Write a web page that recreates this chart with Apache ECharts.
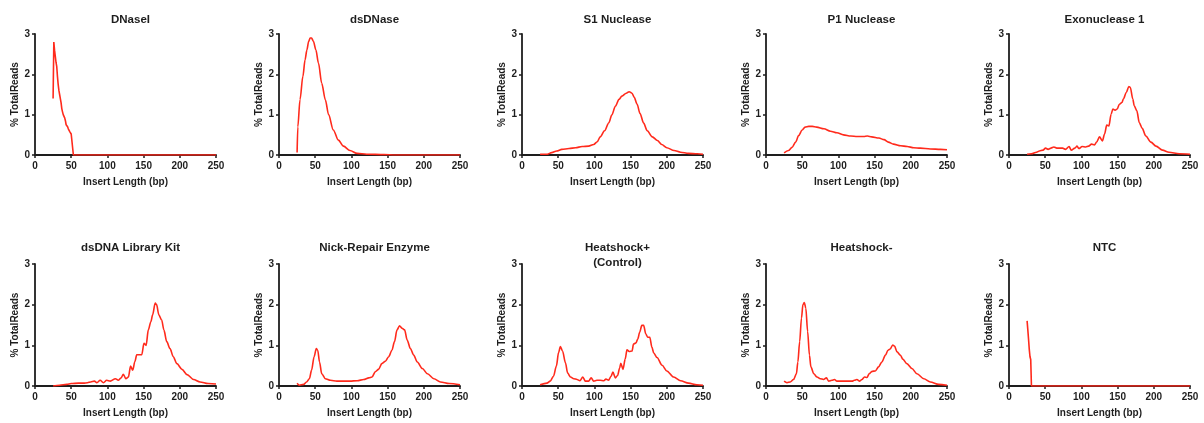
<!DOCTYPE html>
<html>
	<head>
		<meta charset="utf-8">
		<title>Insert Length</title>
		<style>
			html, body { margin: 0; padding: 0; background: #fff; }
			#main { width: 1204px; height: 423px; }
		</style>
	</head>
	<body>
		<div id="main"></div>
		<script type="text/javascript" src="https://cdn.jsdelivr.net/npm/echarts@6/dist/echarts.min.js"></script>
		<script type="text/javascript">
			// panel titles, in the order they are drawn (row by row)
			var titles = ['DNaseI', 'dsDNase', 'S1 Nuclease', 'P1 Nuclease', 'Exonuclease 1',
				'dsDNA Library Kit', 'Nick-Repair Enzyme', 'Heatshock+\n(Control)', 'Heatshock-', 'NTC'];
			var xTicks = [0, 50, 100, 150, 200, 250];
			var yTicks = [0, 1, 2, 3];

			// [insert length (bp), % total reads]
			var dnaseI = [[25,1.4],[26,2.8],[27,2.6],[28,2.45],[29,2.3],[30,2.2],[31,1.95],[32,1.75],[33,1.6],[34,1.5],[35,1.4],[36,1.3],[37,1.15],[38,1.07],[39,1.0],[40,0.97],[41,0.92],[42,0.85],[43,0.75],[44,0.72],[45,0.7],[46,0.65],[47,0.62],[48,0.58],[49,0.54],[50,0.52],[51,0.5],[52,0.5],[53,0],[250,0]];
			var dsDNase = [[25,0.06],[26,0.7],[29,1.37],[33,1.95],[36,2.36],[38.5,2.6],[41,2.82],[43,2.9],[45,2.9],[47.5,2.82],[51,2.6],[54.5,2.28],[59,1.78],[64,1.37],[68.5,1.0],[75,0.62],[82,0.37],[89,0.22],[98,0.11],[108,0.04],[121,0.02],[145,0.01],[160,0],[250,0]];
			var s1Nuclease = [[25,0.02],[35,0.02],[41,0.06],[48,0.1],[55,0.14],[65,0.16],[74,0.18],[83,0.21],[92,0.22],[99,0.26],[104,0.33],[108,0.45],[114,0.6],[120,0.8],[124,0.99],[129,1.21],[134,1.38],[138,1.46],[144,1.53],[148,1.57],[152,1.53],[155,1.43],[159,1.26],[163,1.03],[168,0.79],[173,0.6],[180,0.45],[187,0.36],[193,0.26],[200,0.18],[210,0.11],[219,0.07],[230,0.04],[242,0.03],[250,0.02]];
			var p1Nuclease = [[25,0.05],[31,0.11],[36,0.19],[41,0.32],[45,0.48],[50,0.62],[54,0.69],[59,0.71],[64,0.71],[70,0.69],[80,0.65],[89,0.59],[98,0.55],[107,0.5],[117,0.47],[126,0.46],[135,0.46],[140,0.47],[146,0.45],[156,0.42],[163,0.38],[169,0.32],[176,0.27],[186,0.23],[195,0.21],[204,0.18],[213,0.17],[227,0.15],[241,0.14],[250,0.13]];
			var exo1 = [[25,0.02],[31,0.03],[38,0.07],[42,0.1],[47,0.12],[50.5,0.17],[54,0.14],[58,0.17],[62,0.2],[66,0.17],[70,0.17],[74,0.17],[78,0.14],[83,0.21],[86,0.12],[91,0.17],[94,0.22],[96.5,0.16],[101,0.21],[106,0.2],[110,0.22],[114,0.27],[118,0.25],[121,0.32],[125,0.45],[129,0.35],[132,0.52],[135,0.74],[138,0.72],[141,1.01],[143.5,1.14],[146.5,1.11],[149.5,1.14],[152.5,1.26],[156,1.3],[158,1.39],[162,1.55],[165.5,1.7],[167.5,1.68],[171,1.39],[173,1.22],[176.5,1.1],[180,0.8],[184,0.66],[189,0.47],[196,0.32],[203,0.22],[212,0.12],[221,0.07],[235,0.03],[250,0.02]];
			var libraryKit = [[25,0],[34,0.02],[44,0.04],[50,0.06],[60,0.07],[67,0.07],[72.5,0.08],[77,0.1],[82,0.12],[85.5,0.08],[90,0.14],[94.5,0.08],[99,0.14],[104,0.12],[111,0.18],[115,0.14],[119,0.2],[122,0.29],[125.5,0.18],[129,0.22],[132,0.49],[135,0.39],[138,0.6],[140.5,0.77],[144,0.77],[147.5,0.77],[150.5,1.05],[153.5,1.0],[156.5,1.38],[160,1.58],[162.5,1.75],[166,2.04],[168,2.0],[171,1.75],[175,1.62],[178,1.38],[182,1.09],[186.5,0.92],[191,0.72],[196,0.55],[203,0.41],[210,0.28],[219,0.16],[228,0.1],[239,0.06],[250,0.05]];
			var nickRepair = [[25,0.07],[28,0.02],[34,0.04],[38,0.1],[42,0.18],[45,0.39],[48.5,0.72],[51.5,0.92],[53.5,0.88],[56,0.59],[59,0.3],[64,0.18],[71,0.14],[80,0.12],[89,0.12],[98,0.12],[108,0.13],[117,0.16],[124,0.2],[128.5,0.22],[133,0.35],[137.5,0.41],[142,0.55],[147,0.61],[151.5,0.72],[156,0.88],[159.5,1.09],[163,1.38],[166.5,1.48],[170,1.42],[173.5,1.38],[177,1.13],[181.5,0.92],[186,0.76],[191,0.59],[198,0.43],[205,0.3],[214,0.18],[223,0.1],[235,0.06],[250,0.03]];
			var heatshockPlus = [[25,0.03],[34.5,0.07],[39,0.12],[43.5,0.24],[47.5,0.49],[50.5,0.82],[53,0.97],[56,0.86],[60,0.57],[63,0.32],[67,0.22],[71.5,0.18],[76,0.16],[80,0.13],[84,0.22],[87.5,0.12],[92,0.12],[95.5,0.2],[99,0.12],[103.5,0.14],[108,0.14],[113,0.13],[116,0.17],[119.5,0.14],[123,0.24],[125.5,0.34],[129,0.2],[132,0.26],[135,0.45],[136.5,0.56],[139.5,0.41],[142.5,0.66],[145,0.89],[148,0.85],[152,0.86],[154,1.03],[157.5,1.06],[160,1.16],[162.5,1.32],[165.5,1.49],[168,1.49],[171,1.28],[173.5,1.2],[176.5,1.2],[179.5,0.95],[182,0.81],[186.5,0.7],[193.5,0.51],[200,0.37],[209.5,0.22],[219,0.13],[230,0.07],[241.5,0.03],[250,0.02]];
			var heatshockMinus = [[25,0.12],[29,0.08],[33.5,0.1],[38,0.16],[42,0.3],[44,0.59],[46.5,1.09],[49,1.67],[51,2.0],[53,2.05],[55,1.91],[57.5,1.34],[60,0.76],[62,0.47],[66,0.3],[70.5,0.22],[75,0.18],[79.5,0.16],[83.5,0.2],[86.5,0.12],[91,0.14],[94.5,0.16],[98,0.12],[105,0.12],[112,0.12],[119,0.12],[122,0.14],[125.5,0.16],[129.5,0.12],[132.5,0.16],[136,0.22],[139.5,0.21],[142.5,0.3],[146.5,0.36],[151,0.37],[155.5,0.47],[160,0.59],[165,0.76],[168.5,0.88],[171.5,0.91],[175,1.01],[177.5,0.98],[181,0.84],[185.5,0.76],[189,0.66],[194.5,0.55],[201.5,0.43],[208.5,0.3],[218,0.18],[227,0.1],[238.5,0.04],[250,0.02]];
			var ntc = [[25,1.6],[26,1.38],[27,1.15],[28,0.9],[29,0.72],[30,0.65],[31,0],[250,0]];

			var panels = [dnaseI, dsDNase, s1Nuclease, p1Nuclease, exo1,
				libraryKit, nickRepair, heatshockPlus, heatshockMinus, ntc];
			// the two truncated profiles are drawn as straight segments
			var sharp = [true, false, false, false, false, false, false, false, false, true];

			var chart = echarts.init(document.getElementById('main'));
			var font = 'Liberation Sans, Arial, sans-serif';
			var ink = '#1e1e1e';
			var lefts = [35, 279, 522, 766, 1009];
			var tops = [34, 264];
			var plotW = 181;
			var plotH = [121, 122];

			var title = [], grid = [], xAxis = [], yAxis = [], series = [];
			for (var i = 0; i < panels.length; i++) {
				var col = i % 5, row = Math.floor(i / 5);
				grid.push({ left: lefts[col], top: tops[row], width: plotW, height: plotH[row] });
				title.push({
					text: titles[i],
					left: lefts[col] + plotW / 2,
					top: row == 0 ? 7 : 235,
					textAlign: 'center',
					textStyle: { fontFamily: font, fontSize: 11.5, fontWeight: 'bold', color: ink, lineHeight: 15 }
				});
				xAxis.push({
					type: 'value', gridIndex: i, min: xTicks[0], max: xTicks[xTicks.length - 1], interval: 50,
					name: 'Insert Length (bp)', nameLocation: 'middle', nameGap: 22,
					nameTextStyle: { fontFamily: font, fontSize: 10, fontWeight: 'bold', color: ink },
					axisLine: { onZero: false, lineStyle: { color: ink, width: 1.8 } },
					axisTick: { length: 3, lineStyle: { color: ink, width: 1.5 } },
					axisLabel: { margin: 6, fontFamily: font, fontSize: 10, fontWeight: 'bold', color: ink },
					splitLine: { show: false }
				});
				yAxis.push({
					type: 'value', gridIndex: i, min: yTicks[0], max: yTicks[yTicks.length - 1], interval: 1,
					name: '% TotalReads', nameLocation: 'middle', nameGap: 15,
					nameTextStyle: { fontFamily: font, fontSize: 10, fontWeight: 'bold', color: ink },
					axisLine: { show: true, lineStyle: { color: ink, width: 1.8 } },
					axisTick: { show: true, length: 3, lineStyle: { color: ink, width: 1.5 } },
					axisLabel: { margin: 5, fontFamily: font, fontSize: 10, fontWeight: 'bold', color: ink },
					splitLine: { show: false }
				});
				series.push({
					type: 'line', xAxisIndex: i, yAxisIndex: i, data: panels[i],
					showSymbol: false, smooth: sharp[i] ? false : 0.3, smoothMonotone: 'x',
					lineStyle: { color: '#ff2a1c', width: 1.6 },
					silent: true
				});
			}

			var option = {
				animation: false,
				backgroundColor: '#fff',
				title: title,
				grid: grid,
				xAxis: xAxis,
				yAxis: yAxis,
				series: series
			};
			chart.setOption(option);
		</script>
	</body>
</html>
